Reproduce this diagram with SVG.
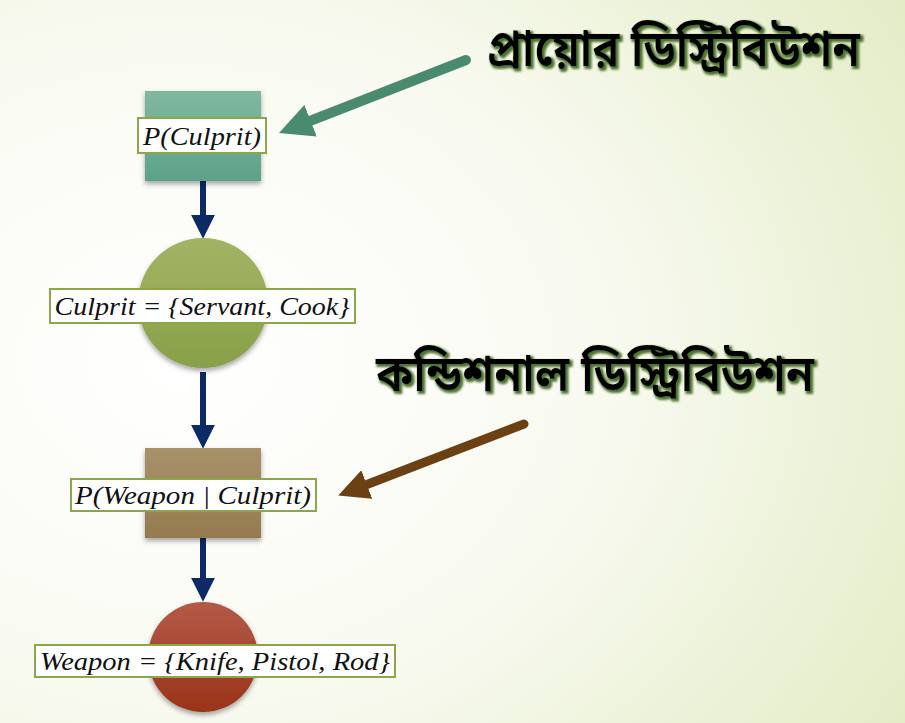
<svg xmlns="http://www.w3.org/2000/svg" width="905" height="723" viewBox="0 0 905 723">
<defs>
<radialGradient id="bg" cx="0.2" cy="0.5" r="0.95">
<stop offset="0" stop-color="#ffffff"/>
<stop offset="0.5" stop-color="#f8faf0"/>
<stop offset="1" stop-color="#e3ecc6"/>
</radialGradient>
<linearGradient id="teal" x1="0" y1="0" x2="0" y2="1"><stop offset="0" stop-color="#80b8a0"/><stop offset="1" stop-color="#5ea28a"/></linearGradient>
<linearGradient id="green" x1="0" y1="0" x2="0" y2="1"><stop offset="0" stop-color="#a2b465"/><stop offset="1" stop-color="#88a048"/></linearGradient>
<linearGradient id="brown" x1="0" y1="0" x2="0" y2="1"><stop offset="0" stop-color="#a8916a"/><stop offset="1" stop-color="#957a4e"/></linearGradient>
<linearGradient id="red" x1="0" y1="0" x2="0" y2="1"><stop offset="0" stop-color="#b35a48"/><stop offset="1" stop-color="#9a3318"/></linearGradient>
<filter id="sh" x="-20%" y="-20%" width="140%" height="140%"><feDropShadow dx="0" dy="3" stdDeviation="2.5" flood-color="#000" flood-opacity="0.35"/></filter>
<filter id="glow" x="-10%" y="-50%" width="120%" height="200%"><feMorphology in="SourceAlpha" operator="dilate" radius="0.8" result="d"/><feGaussianBlur in="d" stdDeviation="0.9" result="b"/><feFlood flood-color="#2f5a0c" flood-opacity="0.85"/><feComposite in2="b" operator="in" result="g"/><feOffset in="g" dx="1.5" dy="1.5" result="o"/><feMerge><feMergeNode in="o"/><feMergeNode in="SourceGraphic"/></feMerge></filter>
<marker id="nav" markerWidth="4" markerHeight="4" refX="2.2" refY="2" orient="auto" markerUnits="strokeWidth"><path d="M0,0 L4,2 L0,4 Z" fill="#0c2a66"/></marker>
<marker id="tealA" markerWidth="3.4" markerHeight="3.4" refX="2" refY="1.7" orient="auto" markerUnits="strokeWidth"><path d="M0,0 L3.4,1.7 L0,3.4 Z" fill="#4a8a6e"/></marker>
<marker id="brnA" markerWidth="3.4" markerHeight="3.4" refX="2" refY="1.7" orient="auto" markerUnits="strokeWidth"><path d="M0,0 L3.4,1.7 L0,3.4 Z" fill="#6b4012"/></marker>
</defs>
<style>
.lbl{fill:#ffffff;stroke:#8ea64a;stroke-width:2}
.m{font-family:"Liberation Serif","DejaVu Serif",serif;font-style:italic;font-size:26px;fill:#111}
.bn{font-family:"Noto Sans","Noto Sans Bengali",sans-serif;font-weight:600;font-size:50px;fill:#000}
.conn{stroke:#0c2a66;stroke-width:6;fill:none}
</style>
<rect width="905" height="723" fill="url(#bg)"/>
<g id="connectors">
<line class="conn" x1="203" y1="181" x2="203" y2="228" marker-end="url(#nav)"/>
<line class="conn" x1="203" y1="372" x2="203" y2="438" marker-end="url(#nav)"/>
<line class="conn" x1="203" y1="538" x2="203" y2="591" marker-end="url(#nav)"/>
<line x1="466" y1="60" x2="292" y2="128" stroke="#4a8a6e" stroke-width="10" stroke-linecap="round" marker-end="url(#tealA)"/>
<line x1="524" y1="424" x2="350" y2="491" stroke="#6b4012" stroke-width="9" stroke-linecap="round" marker-end="url(#brnA)"/>
</g>
<g id="prior">
<rect x="145" y="91" width="116" height="90" fill="url(#teal)" filter="url(#sh)"/>
<rect class="lbl" x="138" y="118" width="128" height="35"/>
<text class="m" x="202" y="145" text-anchor="middle" textLength="118" lengthAdjust="spacingAndGlyphs">P(Culprit)</text>
</g>
<g id="culprit">
<circle cx="203" cy="303" r="65" fill="url(#green)" filter="url(#sh)"/>
<rect class="lbl" x="50" y="289" width="305" height="34"/>
<text class="m" x="202" y="315" text-anchor="middle" textLength="295" lengthAdjust="spacingAndGlyphs">Culprit = {Servant, Cook}</text>
</g>
<g id="conditional">
<rect x="145" y="448" width="116" height="90" fill="url(#brown)" filter="url(#sh)"/>
<rect class="lbl" x="71" y="479" width="245" height="32"/>
<text class="m" x="193" y="504" text-anchor="middle" textLength="236" lengthAdjust="spacingAndGlyphs">P(Weapon | Culprit)</text>
</g>
<g id="weapon">
<circle cx="203" cy="657" r="55" fill="url(#red)" filter="url(#sh)"/>
<rect class="lbl" x="35" y="645" width="360" height="32"/>
<text class="m" x="215" y="670" text-anchor="middle" textLength="350" lengthAdjust="spacingAndGlyphs">Weapon = {Knife, Pistol, Rod}</text>
</g>
<g id="label-prior">
<text class="bn" x="487" y="66" textLength="373" lengthAdjust="spacingAndGlyphs" filter="url(#glow)">প্রায়োর ডিস্ট্রিবিউশন</text>
</g>
<g id="label-conditional">
<text class="bn" x="376" y="391" textLength="438" lengthAdjust="spacingAndGlyphs" filter="url(#glow)">কন্ডিশনাল ডিস্ট্রিবিউশন</text>
</g>
</svg>
